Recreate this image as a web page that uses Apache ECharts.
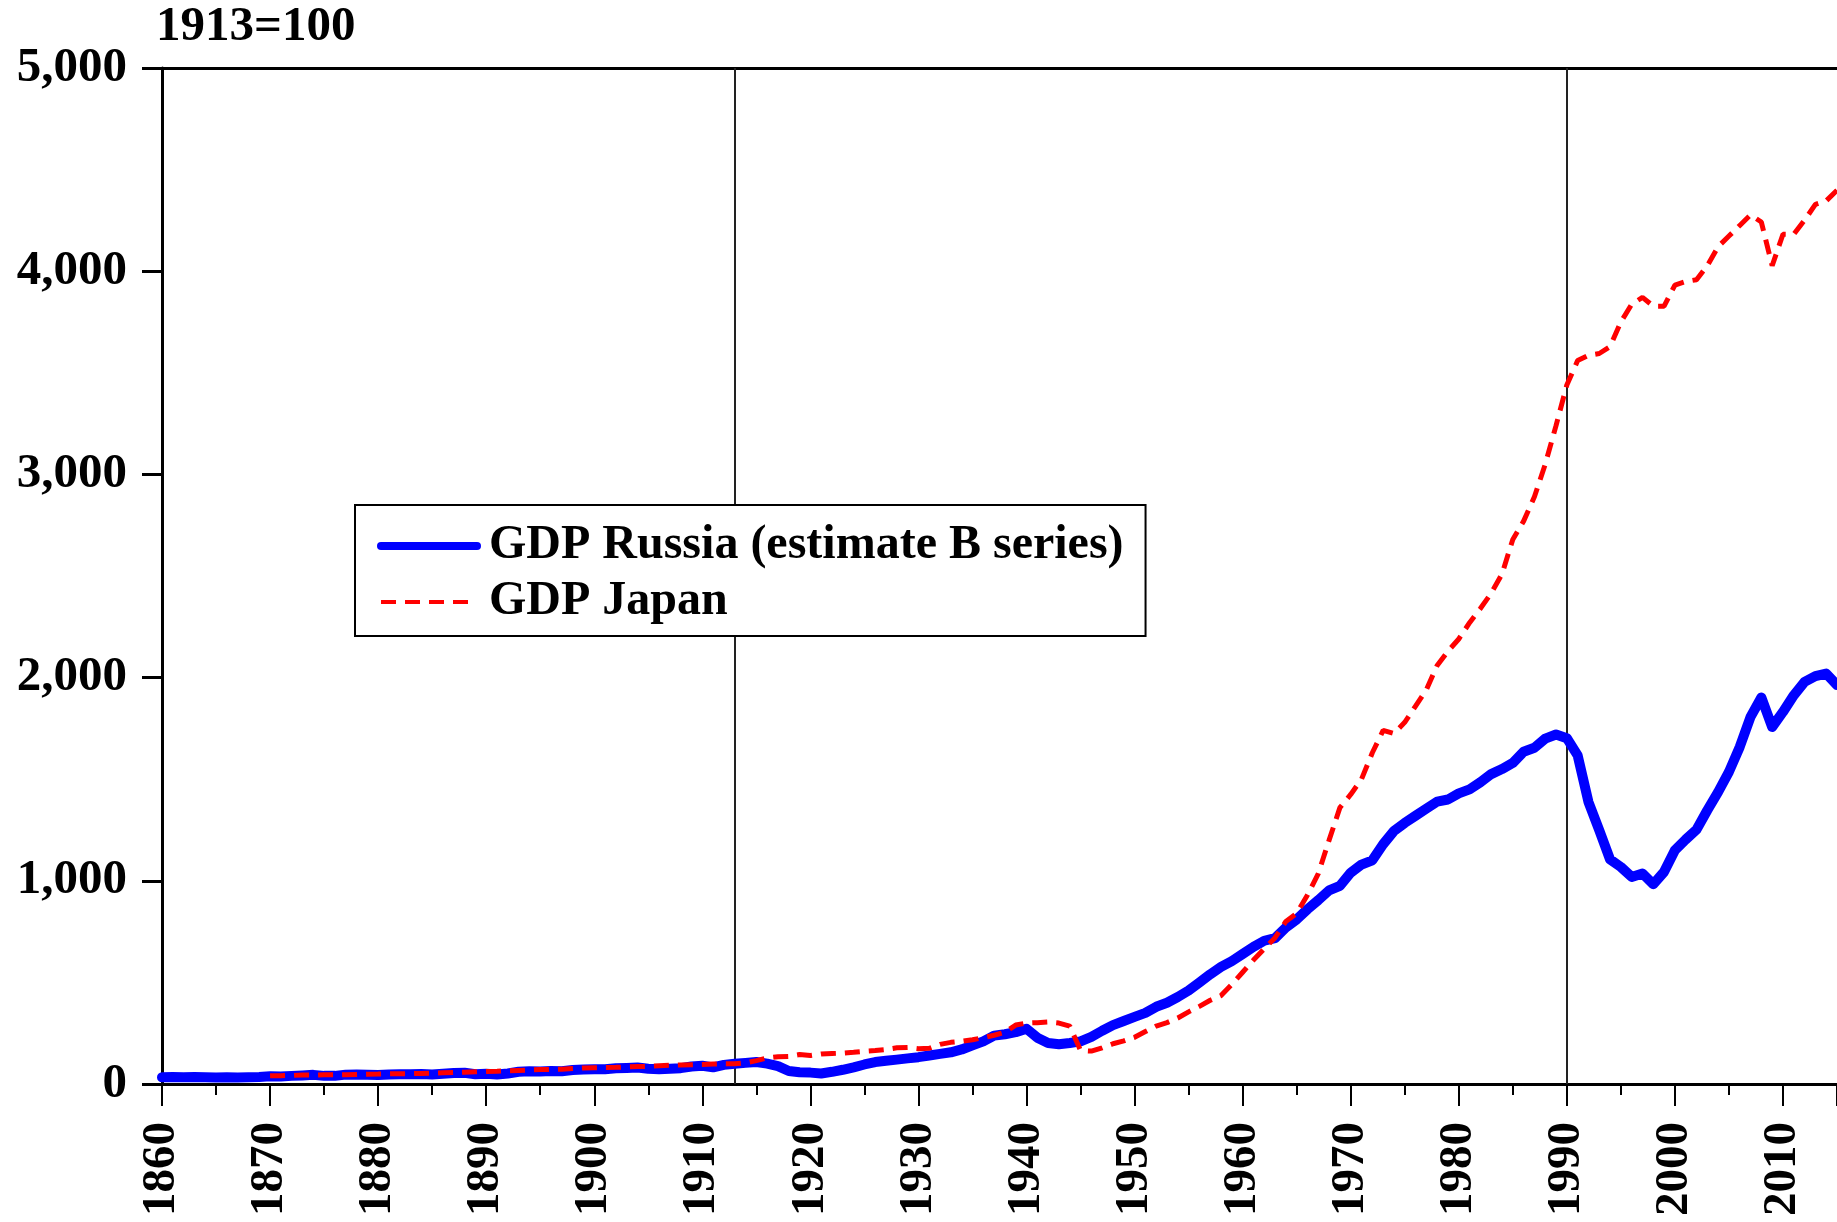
<!DOCTYPE html>
<html>
<head>
<meta charset="utf-8">
<script src="https://cdn.jsdelivr.net/npm/echarts@6/dist/echarts.min.js"></script>
<style>
html,body{margin:0;padding:0;background:#fff;}
#chart{width:1837px;height:1222px;}
</style>
</head>
<body>
<div id="chart"></div>
<script>
// ---- data (index 1913 = 100) ----
var startYear = 1860;
var endYear = 2015;
var russiaName = 'GDP Russia (estimate B series)';
var japanName = 'GDP Japan';
var unitTitle = '1913=100';
var markerYears = [1913, 1990];
var yTicks = [0, 1000, 2000, 3000, 4000, 5000];

// Russia 1860..2015
var russia = [
  33, 34, 33, 35, 33, 32, 33, 32, 33, 34,          // 1860-1869
  38, 37, 40, 42, 45, 40, 40, 46, 47, 45,          // 1870-1879
  44, 47, 48, 48, 49, 47, 50, 54, 55, 48,          // 1880-1889
  50, 47, 52, 60, 63, 62, 64, 63, 69, 71,          // 1890-1899
  72, 73, 77, 79, 81, 75, 73, 75, 78, 86,          // 1900-1909
  90, 82, 94, 100, 104, 108, 100, 88, 64, 58,      // 1910-1919
  56, 52, 60, 70, 82, 96, 108, 114, 120, 126,      // 1920-1929
  132, 140, 148, 156, 170, 190, 210, 238, 245, 255,// 1930-1939
  272, 228, 202, 196, 202, 210, 232, 262, 290, 310,// 1940-1949
  330, 350, 380, 400, 428, 460, 500, 540, 576, 605,// 1950-1959
  640, 675, 705, 718, 770, 810, 860, 905, 953, 975,// 1960-1969
  1040, 1080, 1101, 1180, 1245, 1285, 1320, 1355, 1390, 1400, // 1970-1979
  1430, 1450, 1485, 1525, 1550, 1580, 1635, 1655, 1700, 1720, // 1980-1989
  1702, 1617, 1388, 1249, 1105, 1068, 1019, 1036, 983, 1044,  // 1990-1999
  1150, 1203, 1252, 1347, 1437, 1536, 1659, 1807, 1902, 1757, // 2000-2009
  1831, 1913, 1979, 2007, 2020, 1963                          // 2010-2015
];

// Japan 1860..2015 (no data before 1870)
var japan = [
  null, null, null, null, null, null, null, null, null, null, // 1860-1869
  40, 41, 42, 44, 44, 45, 45, 46, 47, 48,          // 1870-1879
  49, 50, 51, 51, 52, 53, 55, 57, 58, 60,          // 1880-1889
  62, 63, 65, 67, 69, 71, 72, 73, 76, 79,          // 1890-1899
  80, 81, 82, 84, 86, 87, 90, 92, 94, 95,          // 1900-1909
  96, 98, 100, 100, 104, 115, 128, 134, 136, 145,  // 1910-1919
  140, 148, 150, 152, 156, 161, 165, 170, 178, 180,// 1920-1929
  174, 176, 195, 205, 210, 218, 228, 240, 255, 290,// 1930-1939
  300, 302, 305, 300, 285, 165, 162, 178, 198, 212,// 1940-1949
  230, 258, 285, 302, 325, 355, 382, 412, 435, 490,// 1950-1959
  550, 610, 665, 720, 800, 840, 930, 1035, 1200, 1360,        // 1960-1969
  1425, 1500, 1630, 1740, 1725, 1780, 1860, 1940, 2060, 2130, // 1970-1979
  2190, 2270, 2340, 2415, 2510, 2680, 2770, 2890, 3050, 3240, // 1980-1989
  3440, 3560, 3586, 3595, 3629, 3750, 3837, 3871, 3828, 3828, // 1990-1999
  3932, 3949, 3958, 4027, 4121, 4173, 4225, 4277, 4242, 4027, // 2000-2009
  4182, 4182, 4251, 4329, 4346, 4398                          // 2010-2015
];

function pairs(arr) {
  var out = [];
  for (var i = 0; i < arr.length; i++) {
    out.push([startYear + i, arr[i]]);
  }
  return out;
}

var FONT = 'Liberation Serif';
var chart = echarts.init(document.getElementById('chart'), null, {renderer: 'canvas'});

var option = {
  backgroundColor: '#ffffff',
  animation: false,
  title: {
    text: unitTitle,
    left: 156,
    top: 3,
    padding: 0,
    textStyle: {fontFamily: FONT, fontWeight: 'bold', fontSize: 49, color: '#000'}
  },
  legend: {
    orient: 'vertical',
    left: 355,
    top: 505,
    padding: [17, 22, 10, 22],
    itemGap: 8,
    itemWidth: 96,
    itemHeight: 30,
    borderColor: '#000',
    borderWidth: 2,
    backgroundColor: '#fff',
    itemStyle: {opacity: 0},
    textStyle: {fontFamily: FONT, fontWeight: 'bold', fontSize: 48, color: '#000', padding: [0, 0, 0, 7]},
    data: [
      {name: russiaName, lineStyle: {width: 8}},
      {name: japanName, lineStyle: {width: 4, type: [15, 9]}}
    ]
  },
  grid: {left: 162, top: 68, right: 0, bottom: 138, containLabel: false},
  xAxis: [
    {
      type: 'value', position: 'bottom', min: startYear, max: endYear, interval: 10,
      axisLine: {show: true, lineStyle: {color: '#000', width: 3}},
      axisTick: {show: true, length: 22, lineStyle: {color: '#000', width: 2}},
      axisLabel: {
        rotate: 90, margin: 38, fontFamily: FONT, fontWeight: 'bold', fontSize: 47, color: '#000',
        formatter: function (v) { return v % 10 === 0 ? String(v) : ''; }
      },
      splitLine: {show: false}
    },
    {
      type: 'value', position: 'bottom', min: startYear, max: endYear, interval: 5,
      axisLine: {show: false},
      axisTick: {show: true, length: 11, lineStyle: {color: '#000', width: 2}},
      axisLabel: {show: false},
      splitLine: {show: false}
    },
    {
      type: 'value', position: 'top', min: startYear, max: endYear,
      axisLine: {show: true, lineStyle: {color: '#000', width: 3}},
      axisTick: {show: false},
      axisLabel: {show: false},
      splitLine: {show: false}
    }
  ],
  yAxis: {
    type: 'value', min: yTicks[0], max: yTicks[yTicks.length - 1], interval: 1000,
    axisLine: {show: true, lineStyle: {color: '#000', width: 3}},
    axisTick: {show: true, length: 20, lineStyle: {color: '#000', width: 3}},
    axisLabel: {
      margin: 35, fontFamily: FONT, fontWeight: 'bold', fontSize: 49, color: '#000',
      formatter: function (v) { return v.toLocaleString('en-US'); }
    },
    splitLine: {show: false}
  },
  series: [
    {
      name: russiaName,
      type: 'line',
      xAxisIndex: 0,
      data: pairs(russia),
      symbol: 'none',
      lineStyle: {color: '#0000ff', width: 10, join: 'round', cap: 'round'},
      itemStyle: {color: '#0000ff'},
      markLine: {
        silent: true,
        symbol: ['none', 'none'],
        label: {show: false},
        lineStyle: {color: '#222', width: 2, type: 'solid'},
        data: markerYears.map(function (y) { return {xAxis: y}; }),
        z: 1
      },
      z: 2
    },
    {
      name: japanName,
      type: 'line',
      xAxisIndex: 0,
      data: pairs(japan),
      symbol: 'none',
      connectNulls: false,
      lineStyle: {color: '#ff0000', width: 5, type: [15, 9]},
      itemStyle: {color: '#ff0000'},
      z: 3
    }
  ]
};
chart.setOption(option);
</script>
</body>
</html>
